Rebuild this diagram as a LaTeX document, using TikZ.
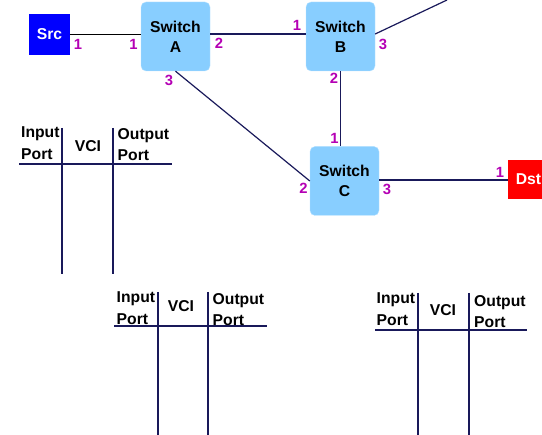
\documentclass[tikz,border=0pt]{standalone}
\usepackage{fontspec}
\setmainfont{Liberation Sans}
\usetikzlibrary{calc}
\definecolor{swblue}{RGB}{136,206,255}
\definecolor{portmag}{RGB}{180,0,180}
\definecolor{wire}{RGB}{25,25,90}

\begin{document}
\begin{tikzpicture}[x=1pt,y=-1pt,
  font=\bfseries\fontsize{15.7}{20}\selectfont,
  sw/.style={fill=swblue,draw=swblue!60!white,rounded corners=5pt,minimum width=69pt,minimum height=69pt,align=center,inner sep=0pt},
  host/.style={minimum width=41pt,minimum height=41pt,text=white,inner sep=0pt},
  port/.style={text=portmag,font=\bfseries\fontsize{14.8}{16}\selectfont,inner sep=0pt},
  hdr/.style={align=left,inner sep=0pt,anchor=north west,font=\bfseries\fontsize{15.7}{21.5}\selectfont},
  link/.style={draw=wire,line width=1.2pt}]
\useasboundingbox (0,0) rectangle (542,435);
% hosts and switches
\node[host,fill=blue] (src) at (49.5,34.5) {Src};
\node[sw] (a) at (175.5,36.5) {Switch\\A};
\node[sw] (b) at (340.5,36.5) {Switch\\B};
\node[sw] (c) at (344.5,181) {Switch\\C};
\node[host,fill=red,minimum height=39pt] (dst) at (528.5,179.5) {Dst};
\coordinate (up) at (447,0);
% links
\draw[link,draw=black] (src.east) -- (src.east -| a.west);
\draw[link] ([yshift=2.5pt]a.east) -- ([yshift=2.5pt]b.west);
\draw[link] ([yshift=2.5pt]b.east) -- (up);
\draw[link] (b.south) -- (b.south |- c.north);
\draw[link] (a.south) -- (c.west);
\draw[link] ([yshift=1pt]c.east) -- ([yshift=1pt]c.east -| dst.west);
% port numbers
\node[port] (src1) at (78,44) {1};
\node[port] (a1) at (133.5,44.5) {1};
\node[port] (a2) at (219,43) {2};
\node[port] (a3) at (169,80) {3};
\node[port] (b1) at (297,25) {1};
\node[port] (b3) at (383,44) {3};
\node[port] (b2) at (334,78) {2};
\node[port] (c1) at (334.5,138) {1};
\node[port] (c2) at (303.5,188.5) {2};
\node[port] (c3) at (387,189) {3};
\node[port] (dst1) at (500,172.5) {1};
% VC tables
\node[hdr] (in1) at (21,127) {Input\\Port};
\node (vci1) at (88,146.5) {VCI};
\node[hdr] (out1) at (117.5,128) {Output\\Port};
\draw[wire,line width=1.2pt] (19,164) -- (172,164) (62,128) -- (62,274) (113,128) -- (113,274);
\node[hdr] (in2) at (116.5,292) {Input\\Port};
\node (vci2) at (181,306) {VCI};
\node[hdr] (out2) at (212.5,293) {Output\\Port};
\draw[wire,line width=1.2pt] (114,326) -- (267,326) (158,292) -- (158,435) (208,292) -- (208,435);
\node[hdr] (in3) at (376.5,293) {Input\\Port};
\node (vci3) at (443,310) {VCI};
\node[hdr] (out3) at (474,295) {Output\\Port};
\draw[wire,line width=1.2pt] (375,330) -- (527,330) (418,293) -- (418,435) (469,293) -- (469,435);
\end{tikzpicture}
\end{document}
